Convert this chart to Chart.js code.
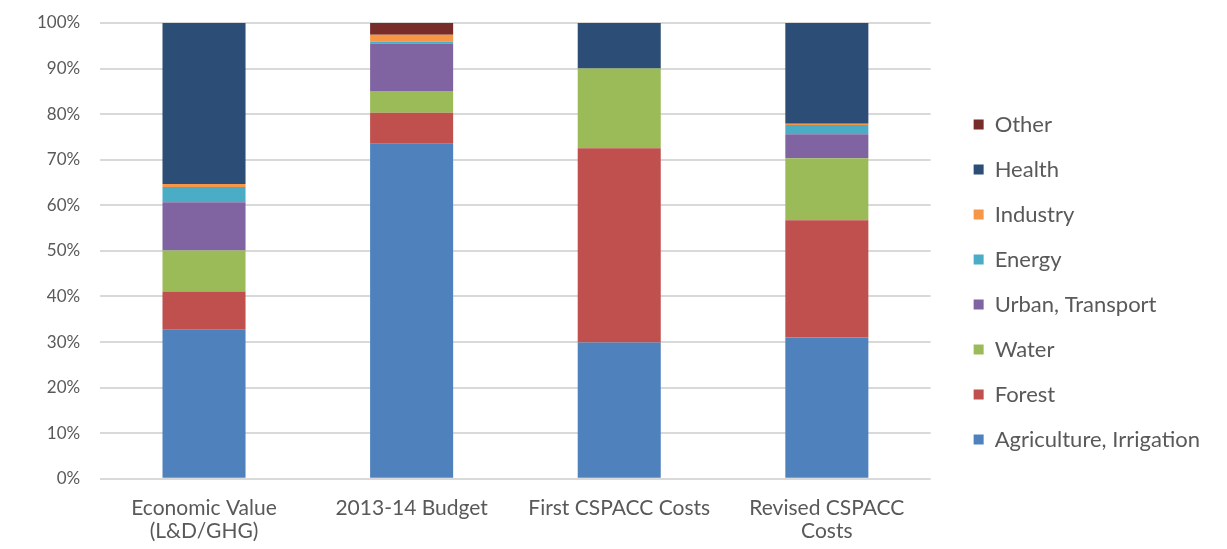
<!DOCTYPE html>
<html>
<head>
<meta charset="utf-8">
<script src="https://cdn.jsdelivr.net/npm/chart.js@4"></script>
<style>
  html, body { margin: 0; padding: 0; background: #fff; }
  #wrap { width: 1227px; height: 549px; }
</style>
</head>
<body>
<div id="wrap"><canvas id="myChart" width="1227" height="549"></canvas></div>
<script>
const labels = [
    ['Economic Value', '(L&D/GHG)'],
    '2013-14 Budget',
    'First CSPACC Costs',
    ['Revised CSPACC', 'Costs'],
];

// shares per category, in percent
const agriculture = [32.7, 73.5, 29.9, 31.0];
const forest      = [8.4, 6.8, 42.6, 25.7];
const water       = [9.0, 4.8, 17.5, 13.6];
const urban       = [10.6, 10.4, 0, 5.3];
const energy      = [3.3, 0.4, 0, 2.0];
const industry    = [0.7, 1.5, 0, 0.3];
const health      = [35.3, 0, 10.0, 22.1];
const other       = [0, 2.6, 0, 0];

const yTicks = [0, 10, 20, 30, 40, 50, 60, 70, 80, 90, 100];

const series = [
    ['Agriculture, Irrigation', agriculture, '#4f81bd'],
    ['Forest', forest, '#c0504d'],
    ['Water', water, '#9bbb59'],
    ['Urban, Transport', urban, '#8064a2'],
    ['Energy', energy, '#4bacc6'],
    ['Industry', industry, '#f79646'],
    ['Health', health, '#2c4d75'],
    ['Other', other, '#772c2a'],
];

const data = {
    labels: labels,
    datasets: series.map(([name, values, color]) => ({
        label: name,
        data: values,
        backgroundColor: color,
        borderWidth: 0,
        barPercentage: 0.4,
        categoryPercentage: 1.0,
    }))
};

const family = 'Lato, "Open Sans", sans-serif';

// extra room between the plot and the legend, and a small downward nudge
// of the legend rows, without touching their spacing
const legendGap = 20;
const legendDrop = 5;
const legendGapPlugin = {
    id: 'legendGap',
    afterInit(chart) {
        const legend = chart.legend;
        if (!legend) return;
        const fit = legend.fit;
        legend.fit = function () {
            fit.call(this);
            this.width += legendGap;
        };
        const draw = legend.draw;
        legend.draw = function () {
            this.left += legendGap;
            this.top += legendDrop;
            this.bottom += legendDrop;
            draw.call(this);
            this.left -= legendGap;
            this.top -= legendDrop;
            this.bottom -= legendDrop;
        };
    }
};

const options = {
    responsive: false,
    animation: false,
    layout: {
        padding: { top: -7, left: 17, right: 17, bottom: -12 }
    },
    scales: {
        x: {
            stacked: true,
            grid: { display: false, drawTicks: false },
            border: { display: false },
            ticks: {
                color: '#595959',
                font: { family: family, size: 21, lineHeight: 1.1 },
                padding: 18,
                maxRotation: 0,
            }
        },
        y: {
            stacked: true,
            min: 0,
            max: 100,
            afterBuildTicks: axis => {
                axis.ticks = yTicks.map(v => ({ value: v }));
            },
            // the label padding would otherwise also push the plot top down
            afterFit: axis => {
                axis.paddingTop = 23;
            },
            border: { display: false },
            grid: {
                color: '#d9d9d9',
                lineWidth: 2,
                drawTicks: false,
            },
            ticks: {
                color: '#595959',
                font: { family: family, size: 17 },
                padding: 20,
                callback: v => v + '%',
            }
        }
    },
    plugins: {
        legend: {
            position: 'right',
            reverse: true,
            labels: {
                color: '#595959',
                font: { family: family, size: 22 },
                boxWidth: 10,
                boxHeight: 10,
                padding: 23,
            }
        },
        tooltip: { enabled: false }
    }
};

const config = {
    type: 'bar',
    data: data,
    options,
    plugins: [legendGapPlugin]
};

const myChart = new Chart(
    document.getElementById('myChart'),
    config
);
</script>
</body>
</html>
